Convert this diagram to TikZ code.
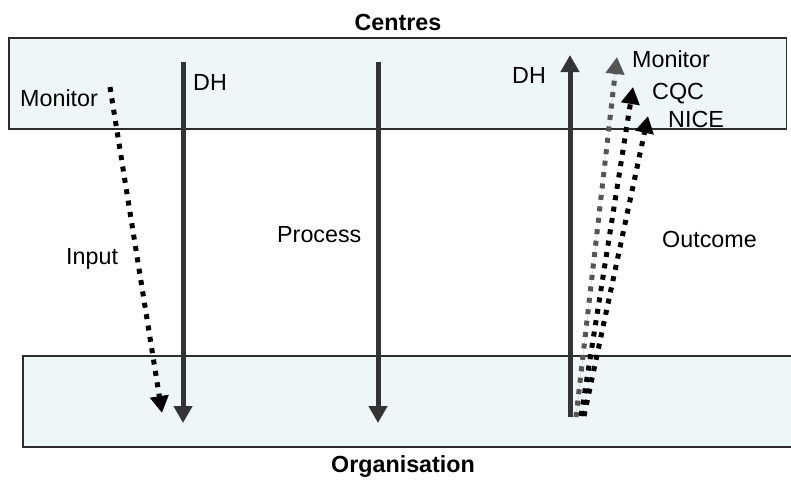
\documentclass[tikz,border=0pt]{standalone}
\usepackage{fontspec}
\setmainfont{Liberation Sans}
\usetikzlibrary{arrows.meta}
\definecolor{boxfill}{RGB}{238,246,248}
\definecolor{boxline}{RGB}{45,45,45}
\definecolor{solidarrow}{RGB}{50,52,54}
\definecolor{grayarrow}{RGB}{85,85,85}
\tikzset{
  band/.style={fill=boxfill},
  bandline/.style={draw=boxline, line width=1.5pt},
  solidarr/.style={draw=solidarrow, line width=5pt, -{Triangle[width=18pt,length=17pt]}},
  dotarr/.style={line width=5pt, dash pattern=on 5pt off 6.5pt, -{Triangle[width=18pt,length=17pt]}},
  lbl/.style={font=\fontsize{23.3}{27}\selectfont, inner sep=0pt, anchor=base west},
  ttl/.style={font=\fontsize{23.3}{27}\selectfont\bfseries, inner sep=0pt, anchor=base},
}
\begin{document}
\begin{tikzpicture}[x=1pt,y=-1pt]
\useasboundingbox (0,0) rectangle (791,480);
% bands
\fill[band] (9,38) rectangle (786.5,129);
\draw[bandline] (9,38) rectangle (786.5,129);
\fill[band] (23,356) rectangle (791,447);
\draw[bandline] (791,356) -- (23,356) -- (23,447) -- (791,447);
% titles
\node[ttl] (centres) at (398,30) {Centres};
\node[ttl] (organisation) at (403,472) {Organisation};
% coordinates
\coordinate (monL1) at (110,87);
\coordinate (monL2) at (162,413);
\coordinate (dhL1) at (183,62);
\coordinate (dhL2) at (183,423);
\coordinate (pr1) at (378,62);
\coordinate (pr2) at (378,423);
\coordinate (dhR1) at (570,417);
\coordinate (dhR2) at (570,55);
\coordinate (monR1) at (576,417);
\coordinate (monR2) at (617,57);
\coordinate (cqc1) at (581,416);
\coordinate (cqc2) at (633,87);
\coordinate (nice1) at (584,416);
\coordinate (nice2) at (648,116);
% arrows
\draw[dotarr, draw=black] (monL1) -- (monL2);
\draw[solidarr] (dhL1) -- (dhL2);
\draw[solidarr] (pr1) -- (pr2);
\draw[solidarr] (dhR1) -- (dhR2);
\draw[dotarr, draw=grayarrow, fill=grayarrow] (monR1) -- (monR2);
\draw[dotarr, draw=black] (cqc1) -- (cqc2);
\draw[dotarr, draw=black] (nice1) -- (nice2);
% labels
\node[lbl] (monitorL) at (20,106) {Monitor};
\node[lbl] (dhL) at (193,90.5) {DH};
\node[lbl] (input) at (66,264) {Input};
\node[lbl] (process) at (277,242) {Process};
\node[lbl] (outcome) at (662,247) {Outcome};
\node[lbl] (dhR) at (512,83) {DH};
\node[lbl] (monitorR) at (632,67) {Monitor};
\node[lbl] (cqc) at (652,99) {CQC};
\node[lbl] (nice) at (668,127) {NICE};
\end{tikzpicture}
\end{document}
